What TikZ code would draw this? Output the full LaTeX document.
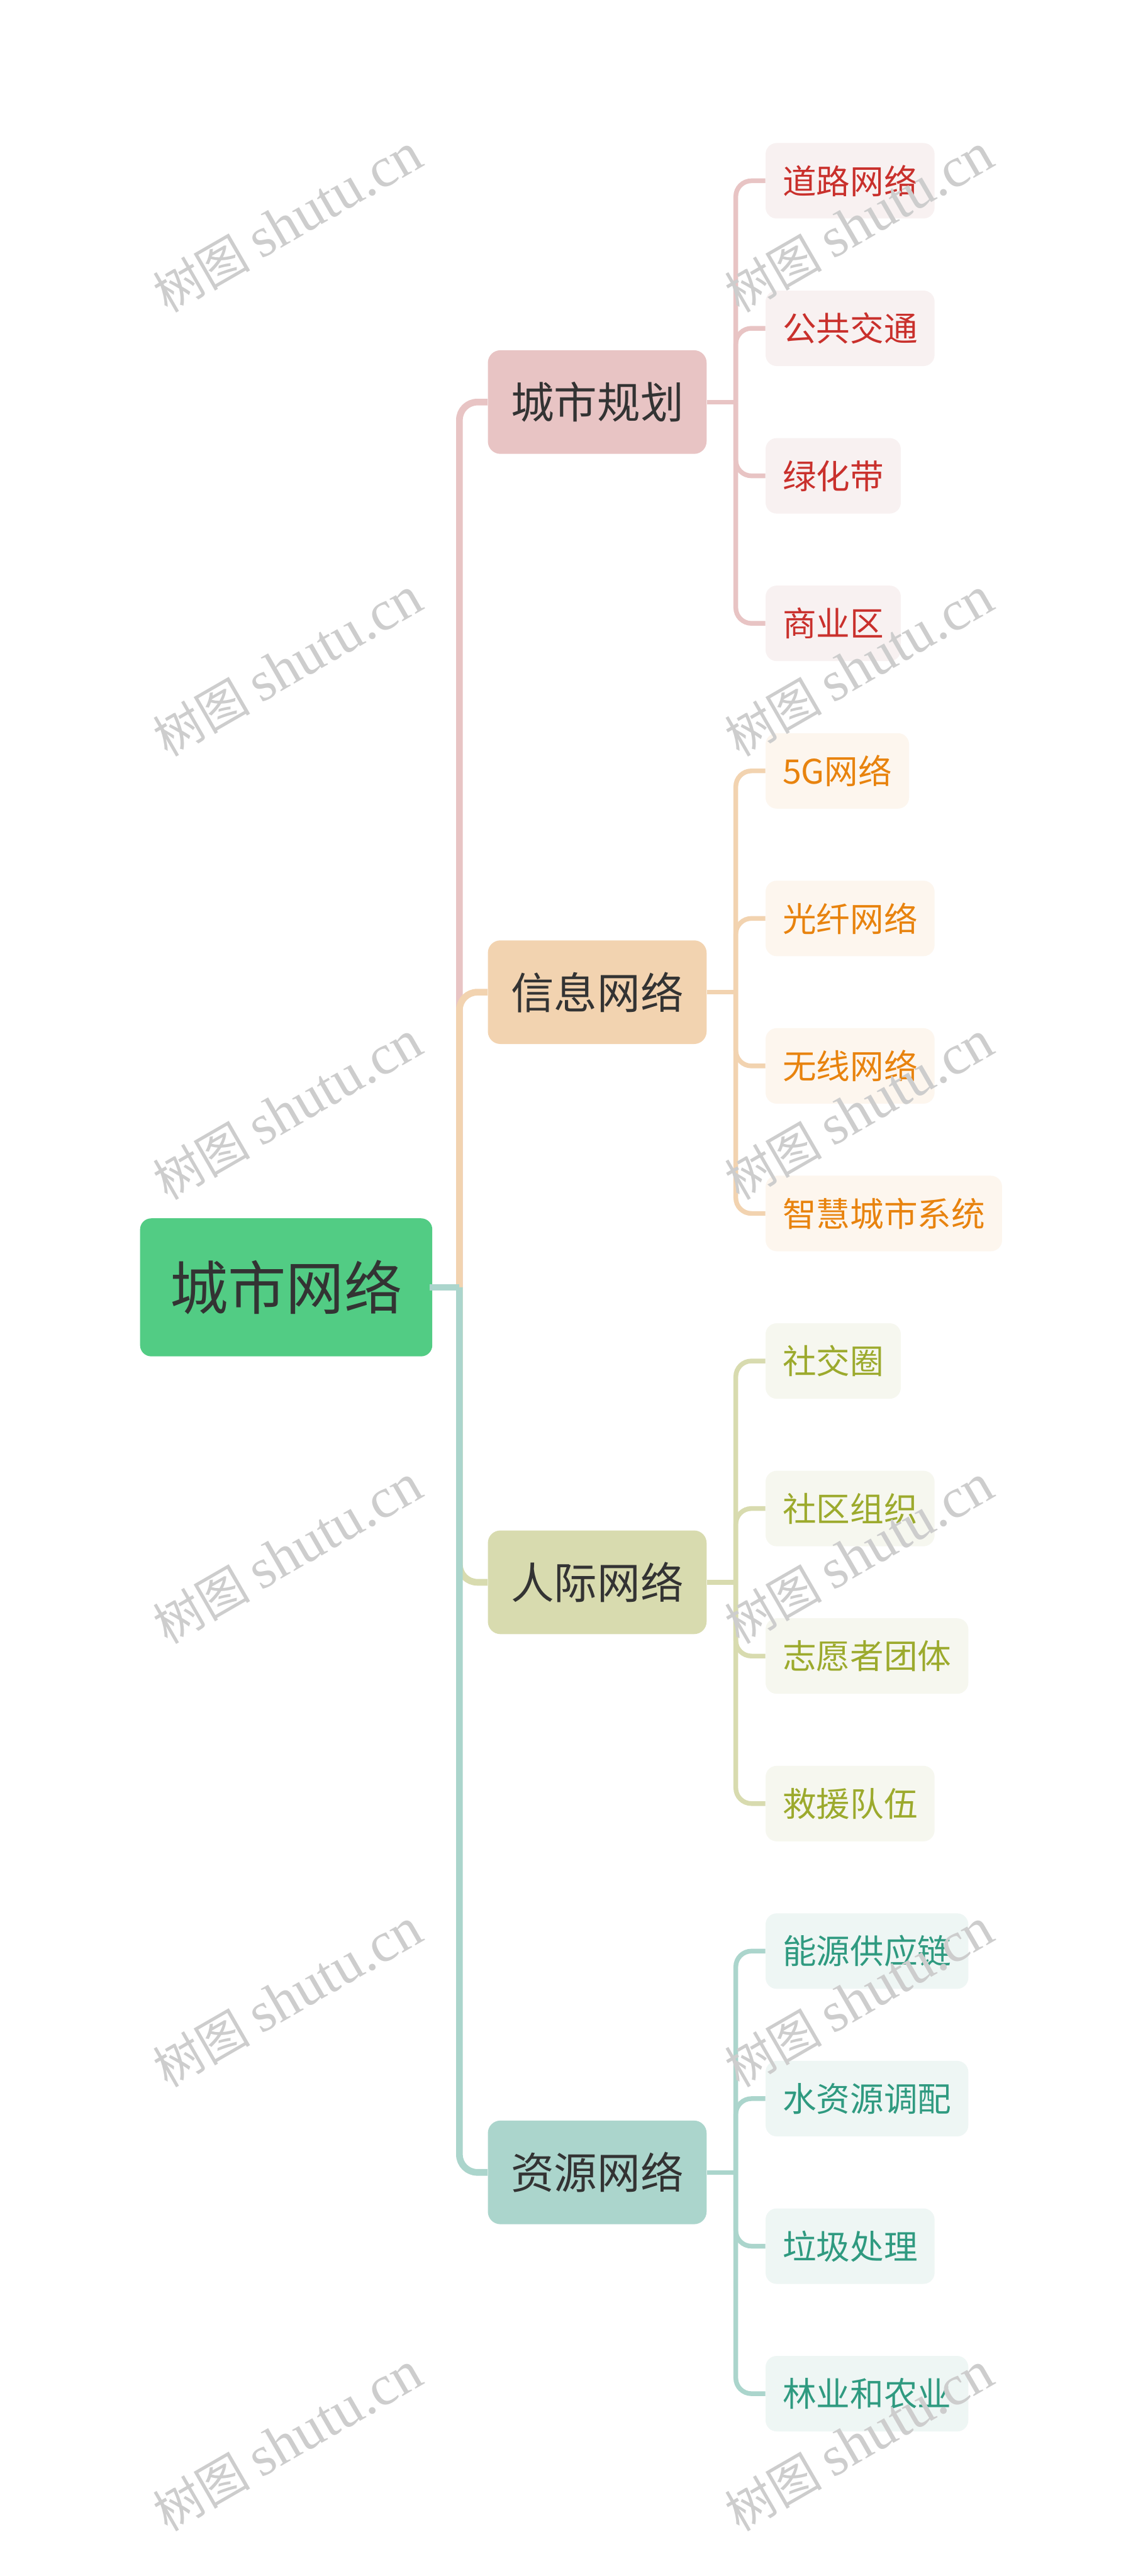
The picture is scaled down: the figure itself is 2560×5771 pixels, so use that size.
\documentclass[tikz,border=0pt]{standalone}
\usepackage{fontspec}
\newfontfamily\cjk{Noto Sans CJK SC}
\newfontfamily\wmlatin{Liberation Serif}
\usetikzlibrary{calc}
\definecolor{rootfill}{HTML}{52CC84}
\definecolor{darktext}{HTML}{333333}
\definecolor{pinkA}{HTML}{E8C4C4}
\definecolor{pinkB}{HTML}{F8F1F1}
\definecolor{pinkT}{HTML}{C9302C}
\definecolor{orA}{HTML}{F2D3B0}
\definecolor{orB}{HTML}{FDF6EE}
\definecolor{orT}{HTML}{E8830E}
\definecolor{olA}{HTML}{D8DBAF}
\definecolor{olB}{HTML}{F6F7EF}
\definecolor{olT}{HTML}{9CAA2D}
\definecolor{tlA}{HTML}{ABD5CC}
\definecolor{tlB}{HTML}{EEF6F4}
\definecolor{tlT}{HTML}{2F9A80}
\definecolor{wmgray}{HTML}{CDCDCD}
\begin{document}
\begin{tikzpicture}[x=0.01cm,y=-0.01cm,
  rootnode/.style={fill=rootfill,rounded corners=0.25cm,minimum height=3.09cm,inner xsep=0.67cm,inner ysep=0pt,font=\cjk\fontsize{37}{40}\selectfont,text=darktext,anchor=west},
  lvone/.style={fill=#1,rounded corners=0.28cm,minimum height=2.32cm,inner xsep=0.515cm,inner ysep=0pt,font=\cjk\fontsize{27.5}{30}\selectfont,text=darktext,anchor=west},
  lvtwo/.style n args={2}{fill=#1,text=#2,rounded corners=0.25cm,minimum height=1.69cm,inner xsep=0.38cm,inner ysep=0pt,font=\cjk\fontsize{21.5}{24}\selectfont,anchor=west},
  conone/.style={draw=#1,line width=0.15cm,rounded corners=0.4cm},
  contwo/.style={draw=#1,line width=0.105cm,rounded corners=0.35cm},
  watermark/.style={rotate=30,text=wmgray,font=\cjk\fontsize{31}{33}\selectfont}
]
\useasboundingbox (0,0) rectangle (2560,5771);
\fill[white] (0,0) rectangle (2560,5771);

% coordinates
\coordinate (tx) at (1029,0);
\coordinate (sx) at (1648,0);

% root
\node[rootnode] (root) at (313,2884) {城市网络};

% level one
\node[lvone=pinkA] (a) at (1092,900.75) {城市规划};
\node[lvone=orA] (b) at (1092,2222.75) {信息网络};
\node[lvone=olA] (c) at (1092,3544.75) {人际网络};
\node[lvone=tlA] (d) at (1092,4866.75) {资源网络};

% level two
\node[lvtwo={pinkB}{pinkT}] (a1) at (1714,405) {道路网络};
\node[lvtwo={pinkB}{pinkT}] (a2) at (1714,735.5) {公共交通};
\node[lvtwo={pinkB}{pinkT}] (a3) at (1714,1066) {绿化带};
\node[lvtwo={pinkB}{pinkT}] (a4) at (1714,1396.5) {商业区};
\node[lvtwo={orB}{orT}] (b1) at (1714,1727) {5G网络};
\node[lvtwo={orB}{orT}] (b2) at (1714,2057.5) {光纤网络};
\node[lvtwo={orB}{orT}] (b3) at (1714,2388) {无线网络};
\node[lvtwo={orB}{orT}] (b4) at (1714,2718.5) {智慧城市系统};
\node[lvtwo={olB}{olT}] (c1) at (1714,3049) {社交圈};
\node[lvtwo={olB}{olT}] (c2) at (1714,3379.5) {社区组织};
\node[lvtwo={olB}{olT}] (c3) at (1714,3710) {志愿者团体};
\node[lvtwo={olB}{olT}] (c4) at (1714,4040.5) {救援队伍};
\node[lvtwo={tlB}{tlT}] (d1) at (1714,4371) {能源供应链};
\node[lvtwo={tlB}{tlT}] (d2) at (1714,4701.5) {水资源调配};
\node[lvtwo={tlB}{tlT}] (d3) at (1714,5032) {垃圾处理};
\node[lvtwo={tlB}{tlT}] (d4) at (1714,5362.5) {林业和农业};

% root connectors
\coordinate (rj) at (root.east -| tx);
\draw[conone=pinkA] (rj) |- (a.west);
\draw[conone=orA] (rj) |- (b.west);
\draw[conone=olA] (rj) |- (c.west);
\draw[conone=tlA] (rj) |- (d.west);
\draw[conone=tlA] ([xshift=-0.07cm]root.east) -- (rj);

% level two connectors
\foreach \p/\col in {a/pinkA,b/orA,c/olA,d/tlA}{
  \coordinate (\p j) at (\p.east -| sx);
  \draw[contwo=\col] (\p.east) -- (\p j);
  \foreach \k in {1,2,3,4}{
    \draw[contwo=\col] (\p j) |- (\p\k.west);
  }
}

% watermarks
\foreach \yy in {500,1494,2488,3482,4476,5470}{
  \node[watermark] (wl) at (644,\yy) {树图 {\wmlatin\fontsize{36}{38}\selectfont shutu.cn}};
  \node[watermark] (wr) at (1924,\yy) {树图 {\wmlatin\fontsize{36}{38}\selectfont shutu.cn}};
}
\end{tikzpicture}
\end{document}
